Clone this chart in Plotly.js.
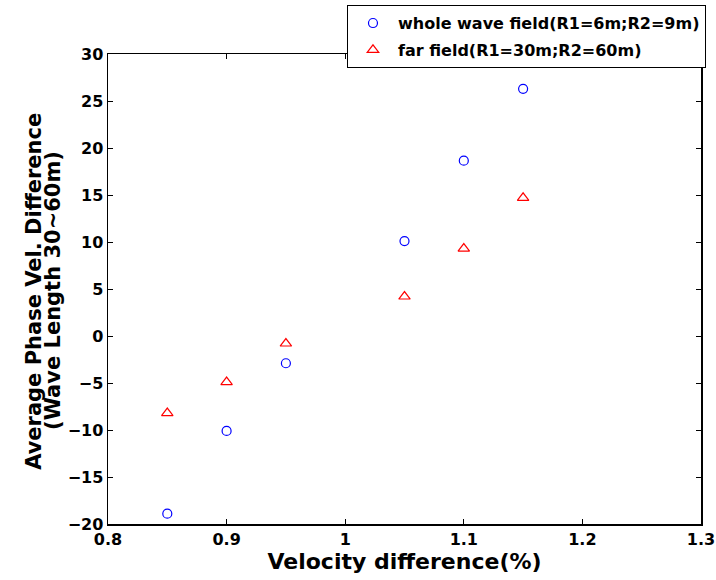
<!DOCTYPE html>
<html>
<head>
<meta charset="utf-8">
<script src="https://cdn.plot.ly/plotly-3.0.1.min.js"></script>
<style>html,body{margin:0;padding:0;background:#fff;}#chart{width:716px;height:580px;}</style>
</head>
<body>
<div id="chart"></div>
<script>
const velocityDiff = [0.85, 0.9, 0.95, 1.05, 1.1, 1.15];
const wholeField = [-18.9, -10.1, -2.9, 10.1, 18.65, 26.3];
const farField = [-8.2, -4.9, -0.8, 4.2, 9.3, 14.7];
const seriesNames = ["whole wave field(R1=6m;R2=9m)", "far field(R1=30m;R2=60m)"];
const xTicks = [0.8, 0.9, 1, 1.1, 1.2, 1.3];
const xTickText = ["0.8", "0.9", "1", "1.1", "1.2", "1.3"];
const yTicks = [-20, -15, -10, -5, 0, 5, 10, 15, 20, 25, 30];
const xTitle = 'Velocity difference(%)';
const yTitleLines = ['Average Phase Vel. Difference', '(Wave Length 30~60m)'];

const fontFam = 'DejaVu Sans, sans-serif';
const traces = [
  {x: velocityDiff, y: wholeField, name: seriesNames[0], legendgroup: 'a', type: 'scatter', mode: 'markers',
   marker: {symbol: 'circle-open', size: 9, color: '#0000ff', line: {width: 1.2, color: '#0000ff'}}},
  {x: velocityDiff, y: farField, name: seriesNames[1], legendgroup: 'b', type: 'scatter', mode: 'markers',
   marker: {symbol: 'triangle-up-open', size: 10, color: '#ff0000', line: {width: 1.2, color: '#ff0000'}}}
];
const axisCommon = {
  showgrid: false, zeroline: false, showline: true, linecolor: '#000', linewidth: 1.5,
  mirror: 'ticks', ticks: 'inside', ticklen: 5, tickwidth: 1, tickcolor: '#000',
  tickfont: {family: fontFam, size: 16, color: '#000', weight: 700}
};
const layout = {
  width: 716, height: 580,
  paper_bgcolor: '#fff', plot_bgcolor: '#fff',
  margin: {l: 108, r: 15, t: 54, b: 56, autoexpand: false},
  showlegend: true,
  xaxis: Object.assign({}, axisCommon, {
    range: [0.8, 1.3], tickvals: xTicks, ticktext: xTickText,
    title: {text: xTitle, font: {family: fontFam, size: 22, color: '#000', weight: 700}, standoff: 4}
  }),
  yaxis: Object.assign({}, axisCommon, {
    range: [-20, 30], tickvals: yTicks
  }),
  annotations: [
    {text: yTitleLines[0], xref: 'paper', yref: 'paper', x: -0.1248, y: 0.496, xanchor: 'center', yanchor: 'middle',
     textangle: -90, showarrow: false, font: {family: fontFam, size: 21, color: '#000', weight: 700}},
    {text: yTitleLines[1], xref: 'paper', yref: 'paper', x: -0.0927, y: 0.496, xanchor: 'center', yanchor: 'middle',
     textangle: -90, showarrow: false, font: {family: fontFam, size: 21, color: '#000', weight: 700}}
  ],
  legend: {
    x: 0.403, y: 1.104, xanchor: 'left', yanchor: 'top',
    bgcolor: '#fff', bordercolor: '#000', borderwidth: 1,
    font: {family: fontFam, size: 16, color: '#000', weight: 700},
    traceorder: 'grouped', tracegroupgap: 3, itemwidth: 40
  }
};
Plotly.newPlot('chart', traces, layout, {displayModeBar: false, staticPlot: true});
</script>
</body>
</html>
